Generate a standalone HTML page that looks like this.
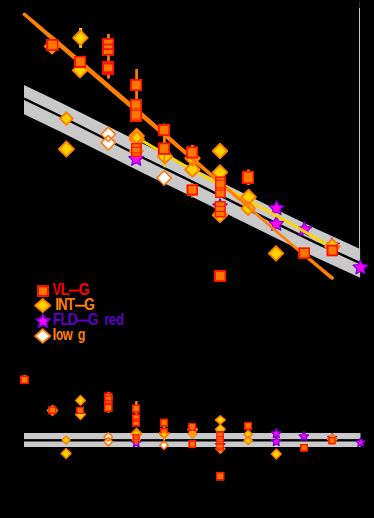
<!DOCTYPE html>
<html>
<head>
<meta charset="utf-8">
<title>chart</title>
<style>
html,body{margin:0;padding:0;background:#000;}
body{width:374px;height:518px;overflow:hidden;font-family:"Liberation Sans",sans-serif;}
svg{display:block;}
</style>
</head>
<body>
<svg width="374" height="518" viewBox="0 0 374 518">
<rect x="0" y="0" width="374" height="518" fill="#000"/>
<path d="M24 84.9L60 102.18L146 145.33L186 164.8L286 214.24L316 228.83L346 242.61L360.1 249.1L360.1 277.8L346 271.33L316 257.6L286 243.08L186 193.81L146 174.41L60 131.41L24 114.2Z" fill="#c9c9c9"/>
<rect x="359" y="8" width="1" height="241" fill="#c4c4c4"/>
<rect x="359" y="1" width="1" height="7" fill="#2a2a2a"/>
<path d="M24 98.7L60 116L146 159.2L186 178.7L286 228.2L316 242.8L346 256.6L360.1 263.1" fill="none" stroke="#000" stroke-width="2.4" stroke-linecap="butt" stroke-linejoin="round"/>
<path d="M136.2 151.4L138.33 156.17L143.52 156.72L139.64 160.22L140.73 165.33L136.2 162.72L131.67 165.33L132.76 160.22L128.88 156.72L134.07 156.17Z" fill="#ff00ff"/>
<path d="M220 198.7L222.13 203.47L227.32 204.02L223.44 207.52L224.53 212.63L220 210.02L215.47 212.63L216.56 207.52L212.68 204.02L217.87 203.47Z" fill="#ff00ff"/>
<path d="M276.5 200.7L278.63 205.47L283.82 206.02L279.94 209.52L281.03 214.63L276.5 212.02L271.97 214.63L273.06 209.52L269.18 206.02L274.37 205.47Z" fill="#ff00ff"/>
<path d="M276.3 216.3L278.43 221.07L283.62 221.62L279.74 225.12L280.83 230.23L276.3 227.62L271.77 230.23L272.86 225.12L268.98 221.62L274.17 221.07Z" fill="#ff00ff"/>
<path d="M304.3 221.8L306.43 226.57L311.62 227.12L307.74 230.62L308.83 235.73L304.3 233.12L299.77 235.73L300.86 230.62L296.98 227.12L302.17 226.57Z" fill="#ff00ff"/>
<path d="M332 238.1L334.13 242.87L339.32 243.42L335.44 246.92L336.53 252.03L332 249.42L327.47 252.03L328.56 246.92L324.68 243.42L329.87 242.87Z" fill="#ff00ff"/>
<path d="M360.45 259.9L362.58 264.67L367.77 265.22L363.89 268.72L364.98 273.83L360.45 271.22L355.92 273.83L357.01 268.72L353.13 265.22L358.32 264.67Z" fill="#ff00ff"/>
<path d="M136.2 151.4L138.33 156.17L143.52 156.72L139.64 160.22L140.73 165.33L136.2 162.72L131.67 165.33L132.76 160.22L128.88 156.72L134.07 156.17Z" fill="none" stroke="#7a00cc" stroke-width="1.2" stroke-linejoin="round"/>
<path d="M220 198.7L222.13 203.47L227.32 204.02L223.44 207.52L224.53 212.63L220 210.02L215.47 212.63L216.56 207.52L212.68 204.02L217.87 203.47Z" fill="none" stroke="#7a00cc" stroke-width="1.2" stroke-linejoin="round"/>
<path d="M276.5 200.7L278.63 205.47L283.82 206.02L279.94 209.52L281.03 214.63L276.5 212.02L271.97 214.63L273.06 209.52L269.18 206.02L274.37 205.47Z" fill="none" stroke="#7a00cc" stroke-width="1.2" stroke-linejoin="round"/>
<path d="M276.3 216.3L278.43 221.07L283.62 221.62L279.74 225.12L280.83 230.23L276.3 227.62L271.77 230.23L272.86 225.12L268.98 221.62L274.17 221.07Z" fill="none" stroke="#7a00cc" stroke-width="1.2" stroke-linejoin="round"/>
<path d="M304.3 221.8L306.43 226.57L311.62 227.12L307.74 230.62L308.83 235.73L304.3 233.12L299.77 235.73L300.86 230.62L296.98 227.12L302.17 226.57Z" fill="none" stroke="#7a00cc" stroke-width="1.2" stroke-linejoin="round"/>
<path d="M332 238.1L334.13 242.87L339.32 243.42L335.44 246.92L336.53 252.03L332 249.42L327.47 252.03L328.56 246.92L324.68 243.42L329.87 242.87Z" fill="none" stroke="#7a00cc" stroke-width="1.2" stroke-linejoin="round"/>
<path d="M360.45 259.9L362.58 264.67L367.77 265.22L363.89 268.72L364.98 273.83L360.45 271.22L355.92 273.83L357.01 268.72L353.13 265.22L358.32 264.67Z" fill="none" stroke="#7a00cc" stroke-width="1.2" stroke-linejoin="round"/>
<path d="M136 137.1L186 166.4L286 221.1L332 247.3" fill="none" stroke="#ffd400" stroke-width="2.9" stroke-linecap="butt" stroke-linejoin="round"/>
<rect x="79.1" y="28" width="3" height="19.8" fill="#ffd000"/>
<rect x="163.4" y="160" width="2" height="7.3" fill="#ffd000"/>
<path d="M52 39L59.3 46.3L52 53.6L44.7 46.3Z" fill="#ffd200"/>
<path d="M80.4 30.5L87.7 37.8L80.4 45.1L73.1 37.8Z" fill="#ffd200"/>
<path d="M80 63L87.3 70.3L80 77.6L72.7 70.3Z" fill="#ffd200"/>
<path d="M66.4 112.3L72.7 118.6L66.4 124.9L60.1 118.6Z" fill="#ffd200"/>
<path d="M66.4 141.5L74 149.1L66.4 156.7L58.8 149.1Z" fill="#ffd200"/>
<path d="M136.7 128.7L144 136L136.7 143.3L129.4 136Z" fill="#ffd200"/>
<path d="M136.7 131.9L144 139.2L136.7 146.5L129.4 139.2Z" fill="#ffd200"/>
<path d="M136.4 145.4L142.9 151.1L136.4 156.8L129.9 151.1Z" fill="#ffd200"/>
<path d="M164.9 149.1L172.2 156.4L164.9 163.7L157.6 156.4Z" fill="#ffd200"/>
<path d="M192.5 151L199.8 158.3L192.5 165.6L185.2 158.3Z" fill="#ffd200"/>
<path d="M192.4 162.2L199.7 169.5L192.4 176.8L185.1 169.5Z" fill="#ffd200"/>
<path d="M220 143.7L227.3 151L220 158.3L212.7 151Z" fill="#ffd200"/>
<path d="M220 165.1L227.3 172.4L220 179.7L212.7 172.4Z" fill="#ffd200"/>
<path d="M220 207.7L227.3 215L220 222.3L212.7 215Z" fill="#ffd200"/>
<path d="M248.6 189.7L255.9 197L248.6 204.3L241.3 197Z" fill="#ffd200"/>
<path d="M248.2 201.7L254.9 208.4L248.2 215.1L241.5 208.4Z" fill="#ffd200"/>
<path d="M276 246.1L283.3 253.4L276 260.7L268.7 253.4Z" fill="#ffd200"/>
<path d="M332.3 239.2L339.6 246.5L332.3 253.8L325 246.5Z" fill="#ffd200"/>
<path d="M52 39L59.3 46.3L52 53.6L44.7 46.3Z" fill="none" stroke="#ff7c00" stroke-width="1.8" stroke-linejoin="round"/>
<path d="M80.4 30.5L87.7 37.8L80.4 45.1L73.1 37.8Z" fill="none" stroke="#ff7c00" stroke-width="1.8" stroke-linejoin="round"/>
<path d="M80 63L87.3 70.3L80 77.6L72.7 70.3Z" fill="none" stroke="#ff7c00" stroke-width="1.8" stroke-linejoin="round"/>
<path d="M66.4 112.3L72.7 118.6L66.4 124.9L60.1 118.6Z" fill="none" stroke="#ff7c00" stroke-width="1.8" stroke-linejoin="round"/>
<path d="M66.4 141.5L74 149.1L66.4 156.7L58.8 149.1Z" fill="none" stroke="#ff7c00" stroke-width="1.8" stroke-linejoin="round"/>
<path d="M136.7 128.7L144 136L136.7 143.3L129.4 136Z" fill="none" stroke="#ff7c00" stroke-width="1.8" stroke-linejoin="round"/>
<path d="M136.7 131.9L144 139.2L136.7 146.5L129.4 139.2Z" fill="none" stroke="#ff7c00" stroke-width="1.8" stroke-linejoin="round"/>
<path d="M136.4 145.4L142.9 151.1L136.4 156.8L129.9 151.1Z" fill="none" stroke="#ff7c00" stroke-width="1.8" stroke-linejoin="round"/>
<path d="M164.9 149.1L172.2 156.4L164.9 163.7L157.6 156.4Z" fill="none" stroke="#ff7c00" stroke-width="1.8" stroke-linejoin="round"/>
<path d="M192.5 151L199.8 158.3L192.5 165.6L185.2 158.3Z" fill="none" stroke="#ff7c00" stroke-width="1.8" stroke-linejoin="round"/>
<path d="M192.4 162.2L199.7 169.5L192.4 176.8L185.1 169.5Z" fill="none" stroke="#ff7c00" stroke-width="1.8" stroke-linejoin="round"/>
<path d="M220 143.7L227.3 151L220 158.3L212.7 151Z" fill="none" stroke="#ff7c00" stroke-width="1.8" stroke-linejoin="round"/>
<path d="M220 165.1L227.3 172.4L220 179.7L212.7 172.4Z" fill="none" stroke="#ff7c00" stroke-width="1.8" stroke-linejoin="round"/>
<path d="M220 207.7L227.3 215L220 222.3L212.7 215Z" fill="none" stroke="#ff7c00" stroke-width="1.8" stroke-linejoin="round"/>
<path d="M248.6 189.7L255.9 197L248.6 204.3L241.3 197Z" fill="none" stroke="#ff7c00" stroke-width="1.8" stroke-linejoin="round"/>
<path d="M248.2 201.7L254.9 208.4L248.2 215.1L241.5 208.4Z" fill="none" stroke="#ff7c00" stroke-width="1.8" stroke-linejoin="round"/>
<path d="M276 246.1L283.3 253.4L276 260.7L268.7 253.4Z" fill="none" stroke="#ff7c00" stroke-width="1.8" stroke-linejoin="round"/>
<path d="M332.3 239.2L339.6 246.5L332.3 253.8L325 246.5Z" fill="none" stroke="#ff7c00" stroke-width="1.8" stroke-linejoin="round"/>
<path d="M108.3 127.1L115.5 134.3L108.3 141.5L101.1 134.3Z" fill="#ffffff"/>
<path d="M108.3 135.6L115.5 142.8L108.3 150L101.1 142.8Z" fill="#ffffff"/>
<path d="M164.1 170.8L171.3 178L164.1 185.2L156.9 178Z" fill="#ffffff"/>
<path d="M108.3 127.1L115.5 134.3L108.3 141.5L101.1 134.3Z" fill="none" stroke="#ff7800" stroke-width="1.6" stroke-linejoin="round"/>
<path d="M108.3 135.6L115.5 142.8L108.3 150L101.1 142.8Z" fill="none" stroke="#ff7800" stroke-width="1.6" stroke-linejoin="round"/>
<path d="M164.1 170.8L171.3 178L164.1 185.2L156.9 178Z" fill="none" stroke="#ff7800" stroke-width="1.6" stroke-linejoin="round"/>
<path d="M25.37 12.95L32.46 18.84L39.54 24.74L46.61 30.65L53.68 36.57L60.75 42.49L67.76 48.47L74.77 54.46L81.77 60.44L88.78 66.43L95.79 72.42L102.79 78.41L109.8 84.39L116.81 90.38L123.81 96.38L130.82 102.41L137.82 108.44L144.79 114.52L151.75 120.6L158.71 126.69L165.67 132.77L172.63 138.85L179.6 144.93L186.56 151.01L193.52 157.09L200.48 163.17L207.44 169.26L214.4 175.35L221.35 181.44L228.31 187.53L235.27 193.61L242.22 199.72L249.18 205.84L256.15 211.94L263.11 218.05L270.08 224.15L277.05 230.25L284.06 236.3L291.13 242.14L298.19 247.88L305.26 253.61L312.32 259.36L319.33 265.15L326.35 270.94L333.37 276.73L331.03 279.47L324.05 273.63L317.07 267.79L310.1 261.95L303.16 256.06L296.23 250.17L289.3 244.27L282.37 238.27L275.39 232.19L268.36 226.16L261.33 220.12L254.3 214.09L247.27 208.06L240.23 202.04L233.2 196.03L226.16 190.04L219.12 184.05L212.08 178.05L205.04 172.06L198 166.07L190.97 160.07L183.94 154.07L176.9 148.07L169.87 142.08L162.84 136.08L155.8 130.08L148.77 124.08L141.74 118.08L134.7 112.08L127.71 106.03L120.72 99.98L113.74 93.96L106.75 87.95L99.76 81.95L92.77 75.94L85.78 69.93L78.79 63.92L71.8 57.91L64.81 51.9L57.83 45.89L50.9 39.81L43.97 33.73L37.05 27.65L30.14 21.55L23.23 15.45Z" fill="#ff8000"/>
<circle cx="24.3" cy="14.2" r="1.65" fill="#ff8000"/>
<circle cx="332.2" cy="278.1" r="1.8" fill="#ff8000"/>
<rect x="107.15" y="34" width="2.7" height="44.6" fill="#ff8000"/>
<rect x="135.25" y="69" width="2.7" height="52" fill="#ff8000"/>
<rect x="163.05" y="123.6" width="2.7" height="31.4" fill="#ff8000"/>
<rect x="163.65" y="155" width="1.3" height="8" fill="#ff7000"/>
<rect x="191.05" y="145" width="2.7" height="15" fill="#ff8000"/>
<rect x="191" y="183.1" width="1.8" height="14.6" fill="#ff8000"/>
<rect x="247.05" y="169.5" width="2.7" height="15.5" fill="#ff8000"/>
<rect x="46.3" y="39" width="12" height="12" fill="#ff7800"/>
<rect x="74.05" y="55.9" width="12" height="12" fill="#ff7800"/>
<rect x="102.05" y="38.1" width="12" height="12" fill="#ff7800"/>
<rect x="102.05" y="43.5" width="12" height="12" fill="#ff7800"/>
<rect x="102.05" y="61.1" width="12" height="12" fill="#ff7800"/>
<rect x="102.05" y="62.9" width="12" height="12" fill="#ff7800"/>
<rect x="130.05" y="79" width="12" height="12" fill="#ff7800"/>
<rect x="157.9" y="124" width="12" height="12" fill="#ff7800"/>
<rect x="157.9" y="142.7" width="12" height="12" fill="#ff7800"/>
<rect x="186.05" y="146.6" width="12" height="12" fill="#ff7800"/>
<rect x="186.65" y="184.4" width="11.2" height="11.2" fill="#ff7800"/>
<rect x="214.05" y="270" width="12" height="12" fill="#ff7800"/>
<rect x="241.9" y="170.95" width="12.1" height="13" fill="#ff7800"/>
<rect x="298.4" y="247.4" width="11.6" height="11.6" fill="#ff7800"/>
<rect x="326.6" y="244.8" width="11.4" height="11.4" fill="#ff7800"/>
<path d="M46.3 39H58.3V51H46.3ZM48.15 40.65V49.2H56.8V40.65Z" fill="#ff0c00" fill-rule="evenodd"/>
<path d="M74.05 55.9H86.05V67.9H74.05ZM75.9 57.55V66.1H84.55V57.55Z" fill="#ff0c00" fill-rule="evenodd"/>
<path d="M102.05 38.1H114.05V50.1H102.05ZM103.9 39.75V48.3H112.55V39.75Z" fill="#ff0c00" fill-rule="evenodd"/>
<path d="M102.05 43.5H114.05V55.5H102.05ZM103.9 45.15V53.7H112.55V45.15Z" fill="#ff0c00" fill-rule="evenodd"/>
<path d="M102.05 61.1H114.05V73.1H102.05ZM103.9 62.75V71.3H112.55V62.75Z" fill="#ff0c00" fill-rule="evenodd"/>
<path d="M102.05 62.9H114.05V74.9H102.05ZM103.9 64.55V73.1H112.55V64.55Z" fill="#ff0c00" fill-rule="evenodd"/>
<path d="M130.05 79H142.05V91H130.05ZM131.9 80.65V89.2H140.55V80.65Z" fill="#ff0c00" fill-rule="evenodd"/>
<path d="M157.9 124H169.9V136H157.9ZM159.75 125.65V134.2H168.4V125.65Z" fill="#ff0c00" fill-rule="evenodd"/>
<path d="M157.9 142.7H169.9V154.7H157.9ZM159.75 144.35V152.9H168.4V144.35Z" fill="#ff0c00" fill-rule="evenodd"/>
<path d="M186.05 146.6H198.05V158.6H186.05ZM187.9 148.25V156.8H196.55V148.25Z" fill="#ff0c00" fill-rule="evenodd"/>
<path d="M186.65 184.4H197.85V195.6H186.65ZM188.5 186.05V193.8H196.35V186.05Z" fill="#ff0c00" fill-rule="evenodd"/>
<path d="M214.05 270H226.05V282H214.05ZM215.9 271.65V280.2H224.55V271.65Z" fill="#ff0c00" fill-rule="evenodd"/>
<path d="M241.9 170.95H254V183.95H241.9ZM243.75 172.6V182.15H252.5V172.6Z" fill="#ff0c00" fill-rule="evenodd"/>
<path d="M298.4 247.4H310V259H298.4ZM300.25 249.05V257.2H308.5V249.05Z" fill="#ff0c00" fill-rule="evenodd"/>
<path d="M326.6 244.8H338V256.2H326.6ZM328.45 246.45V254.4H336.5V246.45Z" fill="#ff0c00" fill-rule="evenodd"/>
<rect x="130.1" y="99" width="11.9" height="22.9" fill="#ff7800"/>
<rect x="130.9" y="99.8" width="10.3" height="21.3" fill="none" stroke="#ff0c00" stroke-width="1.6"/>
<rect x="130.1" y="108.4" width="11.9" height="0.8" fill="#ff0c00"/>
<rect x="130.1" y="110" width="11.9" height="0.8" fill="#ff0c00"/>
<rect x="130.1" y="118.65" width="11.9" height="0.7" fill="#ff0c00"/>
<rect x="131" y="143.1" width="10.7" height="13.7" fill="#ff7800"/>
<rect x="131.65" y="143.75" width="9.4" height="12.4" fill="none" stroke="#ff0c00" stroke-width="1.3"/>
<rect x="131" y="146.75" width="10.7" height="1.1" fill="#ff0c00"/>
<rect x="131" y="152.55" width="10.7" height="1.1" fill="#ff0c00"/>
<rect x="215.1" y="176.5" width="10.6" height="21.4" fill="#ff7800"/>
<rect x="215.75" y="177.15" width="9.3" height="20.1" fill="none" stroke="#ff0c00" stroke-width="1.3"/>
<rect x="215.1" y="179.8" width="10.6" height="1" fill="#ff0c00"/>
<rect x="215.1" y="187.5" width="10.6" height="1" fill="#ff0c00"/>
<rect x="215.1" y="189.6" width="10.6" height="1" fill="#ff0c00"/>
<rect x="214.8" y="201.1" width="10.9" height="16.3" fill="#ff7800"/>
<rect x="215.45" y="201.75" width="9.6" height="15" fill="none" stroke="#ff0c00" stroke-width="1.3"/>
<rect x="214.8" y="205.8" width="10.9" height="1" fill="#ff0c00"/>
<rect x="214.8" y="211.1" width="10.9" height="1" fill="#ff0c00"/>
<rect x="37.3" y="285.45" width="11.5" height="11.2" fill="#ff7800"/>
<rect x="38.2" y="286.35" width="9.7" height="9.4" fill="none" stroke="#ff0c00" stroke-width="1.8"/>
<path d="M42.7 298.85L50.3 305.45L42.7 312.05L35.1 305.45Z" fill="#ffd200"/>
<path d="M42.7 298.85L50.3 305.45L42.7 312.05L35.1 305.45Z" fill="none" stroke="#ff7c00" stroke-width="1.8" stroke-linejoin="round"/>
<path d="M43 314.05L45.13 318.37L49.9 319.06L46.45 322.42L47.26 327.17L43 324.93L38.74 327.17L39.55 322.42L36.1 319.06L40.87 318.37Z" fill="#ff00ff"/>
<path d="M43 314.05L45.13 318.37L49.9 319.06L46.45 322.42L47.26 327.17L43 324.93L38.74 327.17L39.55 322.42L36.1 319.06L40.87 318.37Z" fill="none" stroke="#7a00cc" stroke-width="1.7" stroke-linejoin="round"/>
<path d="M42.7 329.2L50.3 336L42.7 342.8L35.1 336Z" fill="#ffffff"/>
<path d="M42.7 329.2L50.3 336L42.7 342.8L35.1 336Z" fill="none" stroke="#ff7800" stroke-width="1.8" stroke-linejoin="round"/>
<text transform="translate(56.8 294.7) scale(0.9 1.15)" text-anchor="middle" fill="#ff0000" style="font-family:'Liberation Sans',sans-serif;font-size:14px;font-weight:bold;">V</text>
<text transform="translate(64.9 294.7) scale(1.1 1.15)" text-anchor="middle" fill="#ff0000" style="font-family:'Liberation Sans',sans-serif;font-size:14px;font-weight:bold;">L</text>
<rect x="68.8" y="289.6" width="11" height="2" fill="#ff0000"/>
<text transform="translate(84.1 294.7) scale(1 1.15)" text-anchor="middle" fill="#ff0000" style="font-family:'Liberation Sans',sans-serif;font-size:14px;font-weight:bold;">G</text>
<text transform="translate(57.2 309.8) scale(1 1.15)" text-anchor="middle" fill="#ff8000" style="font-family:'Liberation Sans',sans-serif;font-size:14px;font-weight:bold;">I</text>
<text transform="translate(62.9 309.8) scale(0.95 1.15)" text-anchor="middle" fill="#ff8000" style="font-family:'Liberation Sans',sans-serif;font-size:14px;font-weight:bold;">N</text>
<text transform="translate(70.7 309.8) scale(1 1.15)" text-anchor="middle" fill="#ff8000" style="font-family:'Liberation Sans',sans-serif;font-size:14px;font-weight:bold;">T</text>
<rect x="75" y="304.7" width="10.8" height="2" fill="#ff8000"/>
<text transform="translate(89.45 309.8) scale(1 1.15)" text-anchor="middle" fill="#ff8000" style="font-family:'Liberation Sans',sans-serif;font-size:14px;font-weight:bold;">G</text>
<text transform="translate(57 324.7) scale(1 1.15)" text-anchor="middle" fill="#5c00c4" style="font-family:'Liberation Sans',sans-serif;font-size:14px;font-weight:bold;">F</text>
<text transform="translate(64.6 324.7) scale(0.95 1.15)" text-anchor="middle" fill="#5c00c4" style="font-family:'Liberation Sans',sans-serif;font-size:14px;font-weight:bold;">L</text>
<text transform="translate(72.7 324.7) scale(1.05 1.15)" text-anchor="middle" fill="#5c00c4" style="font-family:'Liberation Sans',sans-serif;font-size:14px;font-weight:bold;">D</text>
<rect x="77" y="319.6" width="11.6" height="2" fill="#5c00c4"/>
<text transform="translate(93.1 324.7) scale(1 1.15)" text-anchor="middle" fill="#5c00c4" style="font-family:'Liberation Sans',sans-serif;font-size:14px;font-weight:bold;">G</text>
<text transform="translate(106.8 324.7) scale(0.9 1.15)" text-anchor="middle" fill="#5c00c4" style="font-family:'Liberation Sans',sans-serif;font-size:14px;font-weight:bold;">r</text>
<text transform="translate(112.55 324.7) scale(0.95 1.15)" text-anchor="middle" fill="#5c00c4" style="font-family:'Liberation Sans',sans-serif;font-size:14px;font-weight:bold;">e</text>
<text transform="translate(120 324.7) scale(0.95 1.15)" text-anchor="middle" fill="#5c00c4" style="font-family:'Liberation Sans',sans-serif;font-size:14px;font-weight:bold;">d</text>
<text transform="translate(54.5 340.2) scale(1 1.15)" text-anchor="middle" fill="#ff8000" style="font-family:'Liberation Sans',sans-serif;font-size:14px;font-weight:bold;">l</text>
<text transform="translate(59.55 340.2) scale(0.85 1.15)" text-anchor="middle" fill="#ff8000" style="font-family:'Liberation Sans',sans-serif;font-size:14px;font-weight:bold;">o</text>
<text transform="translate(67.7 340.2) scale(0.92 1.15)" text-anchor="middle" fill="#ff8000" style="font-family:'Liberation Sans',sans-serif;font-size:14px;font-weight:bold;">w</text>
<text transform="translate(81.5 340.2) scale(0.9 1.15)" text-anchor="middle" fill="#ff8000" style="font-family:'Liberation Sans',sans-serif;font-size:14px;font-weight:bold;">g</text>
<rect x="24" y="433" width="336.5" height="14" fill="#c9c9c9"/>
<rect x="24" y="439.1" width="336.5" height="2.4" fill="#000"/>
<path d="M136.2 438.05L137.54 441.06L140.81 441.4L138.37 443.6L139.05 446.82L136.2 445.18L133.35 446.82L134.03 443.6L131.59 441.4L134.86 441.06Z" fill="#ff00ff"/>
<path d="M220.2 440.35L221.57 443.42L224.91 443.77L222.41 446.02L223.11 449.3L220.2 447.63L217.29 449.3L217.99 446.02L215.49 443.77L218.83 443.42Z" fill="#ff00ff"/>
<path d="M276.3 428.45L277.72 431.64L281.2 432.01L278.6 434.35L279.33 437.77L276.3 436.02L273.27 437.77L274 434.35L271.4 432.01L274.88 431.64Z" fill="#ff00ff"/>
<path d="M276.3 436.45L277.7 439.58L281.1 439.94L278.56 442.23L279.27 445.59L276.3 443.87L273.33 445.59L274.04 442.23L271.5 439.94L274.9 439.58Z" fill="#ff00ff"/>
<path d="M303.9 431.55L305.27 434.62L308.61 434.97L306.11 437.22L306.81 440.5L303.9 438.83L300.99 440.5L301.69 437.22L299.19 434.97L302.53 434.62Z" fill="#ff00ff"/>
<path d="M332.2 433.15L333.48 436.03L336.62 436.36L334.28 438.48L334.93 441.56L332.2 439.99L329.47 441.56L330.12 438.48L327.78 436.36L330.92 436.03Z" fill="#ff00ff"/>
<path d="M360.6 437.75L361.91 440.69L365.12 441.03L362.72 443.19L363.39 446.34L360.6 444.73L357.81 446.34L358.48 443.19L356.08 441.03L359.29 440.69Z" fill="#ff00ff"/>
<path d="M136.2 438.05L137.54 441.06L140.81 441.4L138.37 443.6L139.05 446.82L136.2 445.18L133.35 446.82L134.03 443.6L131.59 441.4L134.86 441.06Z" fill="none" stroke="#7a00cc" stroke-width="1.3" stroke-linejoin="round"/>
<path d="M220.2 440.35L221.57 443.42L224.91 443.77L222.41 446.02L223.11 449.3L220.2 447.63L217.29 449.3L217.99 446.02L215.49 443.77L218.83 443.42Z" fill="none" stroke="#7a00cc" stroke-width="1.3" stroke-linejoin="round"/>
<path d="M276.3 428.45L277.72 431.64L281.2 432.01L278.6 434.35L279.33 437.77L276.3 436.02L273.27 437.77L274 434.35L271.4 432.01L274.88 431.64Z" fill="none" stroke="#7a00cc" stroke-width="1.3" stroke-linejoin="round"/>
<path d="M276.3 436.45L277.7 439.58L281.1 439.94L278.56 442.23L279.27 445.59L276.3 443.87L273.33 445.59L274.04 442.23L271.5 439.94L274.9 439.58Z" fill="none" stroke="#7a00cc" stroke-width="1.3" stroke-linejoin="round"/>
<path d="M303.9 431.55L305.27 434.62L308.61 434.97L306.11 437.22L306.81 440.5L303.9 438.83L300.99 440.5L301.69 437.22L299.19 434.97L302.53 434.62Z" fill="none" stroke="#7a00cc" stroke-width="1.3" stroke-linejoin="round"/>
<path d="M332.2 433.15L333.48 436.03L336.62 436.36L334.28 438.48L334.93 441.56L332.2 439.99L329.47 441.56L330.12 438.48L327.78 436.36L330.92 436.03Z" fill="none" stroke="#7a00cc" stroke-width="1.3" stroke-linejoin="round"/>
<path d="M360.6 437.75L361.91 440.69L365.12 441.03L362.72 443.19L363.39 446.34L360.6 444.73L357.81 446.34L358.48 443.19L356.08 441.03L359.29 440.69Z" fill="none" stroke="#7a00cc" stroke-width="1.3" stroke-linejoin="round"/>
<path d="M52.45 405.4L57.55 410.5L52.45 415.6L47.35 410.5Z" fill="#ffd200"/>
<path d="M80.5 395.5L85.4 400.4L80.5 405.3L75.6 400.4Z" fill="#ffd200"/>
<path d="M80.5 409.6L85.4 414.5L80.5 419.4L75.6 414.5Z" fill="#ffd200"/>
<path d="M66.1 435.9L70.1 439.9L66.1 443.9L62.1 439.9Z" fill="#ffd200"/>
<path d="M66.1 448.5L71.1 453.5L66.1 458.5L61.1 453.5Z" fill="#ffd200"/>
<path d="M136.5 428.3L141.5 433.3L136.5 438.3L131.5 433.3Z" fill="#ffd200"/>
<path d="M136.5 429.6L141.5 434.6L136.5 439.6L131.5 434.6Z" fill="#ffd200"/>
<path d="M136.2 435.3L140.3 439.4L136.2 443.5L132.1 439.4Z" fill="#ffd200"/>
<path d="M164.2 428.6L169.1 433.5L164.2 438.4L159.3 433.5Z" fill="#ffd200"/>
<path d="M192.6 424.7L197.5 429.6L192.6 434.5L187.7 429.6Z" fill="#ffd200"/>
<path d="M192.5 429.4L196.8 433.7L192.5 438L188.2 433.7Z" fill="#ffd200"/>
<path d="M220.35 415.7L225.25 419.9L220.35 424.1L215.45 419.9Z" fill="#ffd200"/>
<path d="M220.35 424.4L225.25 429.3L220.35 434.2L215.45 429.3Z" fill="#ffd200"/>
<path d="M220.4 444.2L224.9 448.7L220.4 453.2L215.9 448.7Z" fill="#ffd200"/>
<path d="M248.2 430.1L252.4 434.3L248.2 438.5L244 434.3Z" fill="#ffd200"/>
<path d="M248.2 436.2L252.4 440.4L248.2 444.6L244 440.4Z" fill="#ffd200"/>
<path d="M276.3 449.1L281.2 454L276.3 458.9L271.4 454Z" fill="#ffd200"/>
<path d="M332.3 434L337.2 438.9L332.3 443.8L327.4 438.9Z" fill="#ffd200"/>
<path d="M52.45 405.4L57.55 410.5L52.45 415.6L47.35 410.5Z" fill="none" stroke="#ff7c00" stroke-width="1.4" stroke-linejoin="round"/>
<path d="M80.5 395.5L85.4 400.4L80.5 405.3L75.6 400.4Z" fill="none" stroke="#ff7c00" stroke-width="1.4" stroke-linejoin="round"/>
<path d="M80.5 409.6L85.4 414.5L80.5 419.4L75.6 414.5Z" fill="none" stroke="#ff7c00" stroke-width="1.4" stroke-linejoin="round"/>
<path d="M66.1 435.9L70.1 439.9L66.1 443.9L62.1 439.9Z" fill="none" stroke="#ff7c00" stroke-width="1.4" stroke-linejoin="round"/>
<path d="M66.1 448.5L71.1 453.5L66.1 458.5L61.1 453.5Z" fill="none" stroke="#ff7c00" stroke-width="1.4" stroke-linejoin="round"/>
<path d="M136.5 428.3L141.5 433.3L136.5 438.3L131.5 433.3Z" fill="none" stroke="#ff7c00" stroke-width="1.4" stroke-linejoin="round"/>
<path d="M136.5 429.6L141.5 434.6L136.5 439.6L131.5 434.6Z" fill="none" stroke="#ff7c00" stroke-width="1.4" stroke-linejoin="round"/>
<path d="M136.2 435.3L140.3 439.4L136.2 443.5L132.1 439.4Z" fill="none" stroke="#ff7c00" stroke-width="1.4" stroke-linejoin="round"/>
<path d="M164.2 428.6L169.1 433.5L164.2 438.4L159.3 433.5Z" fill="none" stroke="#ff7c00" stroke-width="1.4" stroke-linejoin="round"/>
<path d="M192.6 424.7L197.5 429.6L192.6 434.5L187.7 429.6Z" fill="none" stroke="#ff7c00" stroke-width="1.4" stroke-linejoin="round"/>
<path d="M192.5 429.4L196.8 433.7L192.5 438L188.2 433.7Z" fill="none" stroke="#ff7c00" stroke-width="1.4" stroke-linejoin="round"/>
<path d="M220.35 415.7L225.25 419.9L220.35 424.1L215.45 419.9Z" fill="none" stroke="#ff7c00" stroke-width="1.4" stroke-linejoin="round"/>
<path d="M220.35 424.4L225.25 429.3L220.35 434.2L215.45 429.3Z" fill="none" stroke="#ff7c00" stroke-width="1.4" stroke-linejoin="round"/>
<path d="M220.4 444.2L224.9 448.7L220.4 453.2L215.9 448.7Z" fill="none" stroke="#ff7c00" stroke-width="1.4" stroke-linejoin="round"/>
<path d="M248.2 430.1L252.4 434.3L248.2 438.5L244 434.3Z" fill="none" stroke="#ff7c00" stroke-width="1.4" stroke-linejoin="round"/>
<path d="M248.2 436.2L252.4 440.4L248.2 444.6L244 440.4Z" fill="none" stroke="#ff7c00" stroke-width="1.4" stroke-linejoin="round"/>
<path d="M276.3 449.1L281.2 454L276.3 458.9L271.4 454Z" fill="none" stroke="#ff7c00" stroke-width="1.4" stroke-linejoin="round"/>
<path d="M332.3 434L337.2 438.9L332.3 443.8L327.4 438.9Z" fill="none" stroke="#ff7c00" stroke-width="1.4" stroke-linejoin="round"/>
<path d="M108.3 432.8L112.5 437L108.3 441.2L104.1 437Z" fill="#ffffff"/>
<path d="M108.3 437.5L112.5 441.7L108.3 445.9L104.1 441.7Z" fill="#ffffff"/>
<path d="M164 441L168.2 445.2L164 449.4L159.8 445.2Z" fill="#ffffff"/>
<path d="M108.3 432.8L112.5 437L108.3 441.2L104.1 437Z" fill="none" stroke="#ff7800" stroke-width="1.6" stroke-linejoin="round"/>
<path d="M108.3 437.5L112.5 441.7L108.3 445.9L104.1 441.7Z" fill="none" stroke="#ff7800" stroke-width="1.6" stroke-linejoin="round"/>
<path d="M164 441L168.2 445.2L164 449.4L159.8 445.2Z" fill="none" stroke="#ff7800" stroke-width="1.6" stroke-linejoin="round"/>
<rect x="107.3" y="391.8" width="2.4" height="21" fill="#ff8000"/>
<rect x="135.2" y="401" width="2.4" height="14" fill="#ff8000"/>
<rect x="163.1" y="426" width="2.4" height="3" fill="#ff8000"/>
<rect x="23.5" y="374.8" width="2" height="2.2" fill="#ff8000"/>
<rect x="163.5" y="438" width="1.6" height="2.3" fill="#ffd000"/>
<rect x="20.3" y="375.7" width="8.2" height="8.2" fill="#ff7800"/>
<rect x="48.5" y="406.45" width="7.8" height="7.8" fill="#ff7800"/>
<rect x="76" y="406.9" width="7.8" height="7.2" fill="#ff7800"/>
<rect x="104" y="392.85" width="8.3" height="8.3" fill="#ff7800"/>
<rect x="104" y="395.55" width="8.3" height="8.3" fill="#ff7800"/>
<rect x="104" y="403.75" width="8.3" height="8.3" fill="#ff7800"/>
<rect x="132.05" y="404.7" width="8" height="8" fill="#ff7800"/>
<rect x="132.05" y="414.1" width="8" height="8" fill="#ff7800"/>
<rect x="132.05" y="418.4" width="8" height="8" fill="#ff7800"/>
<rect x="160.15" y="418.8" width="7.8" height="7.8" fill="#ff7800"/>
<rect x="160.15" y="428" width="7.8" height="7.8" fill="#ff7800"/>
<rect x="188.1" y="423.05" width="7.9" height="7.9" fill="#ff7800"/>
<rect x="188.55" y="440.35" width="7.5" height="7.5" fill="#ff7800"/>
<rect x="216.05" y="472.2" width="8.2" height="8.2" fill="#ff7800"/>
<rect x="244" y="421.9" width="8" height="8" fill="#ff7800"/>
<rect x="300.15" y="444.05" width="7.6" height="7.6" fill="#ff7800"/>
<rect x="328.35" y="437.05" width="7.3" height="7.3" fill="#ff7800"/>
<path d="M20.3 375.7H28.5V383.9H20.3ZM21.75 376.99V382.49H27.33V376.99Z" fill="#ff0c00" fill-rule="evenodd"/>
<path d="M48.5 406.45H56.3V414.25H48.5ZM49.95 407.74V412.84H55.13V407.74Z" fill="#ff0c00" fill-rule="evenodd"/>
<path d="M76 406.9H83.8V414.1H76ZM77.45 408.19V412.69H82.63V408.19Z" fill="#ff0c00" fill-rule="evenodd"/>
<path d="M104 392.85H112.3V401.15H104ZM105.45 394.14V399.74H111.13V394.14Z" fill="#ff0c00" fill-rule="evenodd"/>
<path d="M104 395.55H112.3V403.85H104ZM105.45 396.84V402.44H111.13V396.84Z" fill="#ff0c00" fill-rule="evenodd"/>
<path d="M104 403.75H112.3V412.05H104ZM105.45 405.04V410.64H111.13V405.04Z" fill="#ff0c00" fill-rule="evenodd"/>
<path d="M132.05 404.7H140.05V412.7H132.05ZM133.5 405.99V411.29H138.88V405.99Z" fill="#ff0c00" fill-rule="evenodd"/>
<path d="M132.05 414.1H140.05V422.1H132.05ZM133.5 415.39V420.69H138.88V415.39Z" fill="#ff0c00" fill-rule="evenodd"/>
<path d="M132.05 418.4H140.05V426.4H132.05ZM133.5 419.69V424.99H138.88V419.69Z" fill="#ff0c00" fill-rule="evenodd"/>
<path d="M160.15 418.8H167.95V426.6H160.15ZM161.6 420.09V425.19H166.78V420.09Z" fill="#ff0c00" fill-rule="evenodd"/>
<path d="M160.15 428H167.95V435.8H160.15ZM161.6 429.29V434.39H166.78V429.29Z" fill="#ff0c00" fill-rule="evenodd"/>
<path d="M188.1 423.05H196V430.95H188.1ZM189.55 424.34V429.54H194.83V424.34Z" fill="#ff0c00" fill-rule="evenodd"/>
<path d="M188.55 440.35H196.05V447.85H188.55ZM190 441.64V446.44H194.88V441.64Z" fill="#ff0c00" fill-rule="evenodd"/>
<path d="M216.05 472.2H224.25V480.4H216.05ZM217.5 473.49V478.99H223.08V473.49Z" fill="#ff0c00" fill-rule="evenodd"/>
<path d="M244 421.9H252V429.9H244ZM245.45 423.19V428.49H250.83V423.19Z" fill="#ff0c00" fill-rule="evenodd"/>
<path d="M300.15 444.05H307.75V451.65H300.15ZM301.6 445.34V450.24H306.58V445.34Z" fill="#ff0c00" fill-rule="evenodd"/>
<path d="M328.35 437.05H335.65V444.35H328.35ZM329.8 438.34V442.94H334.48V438.34Z" fill="#ff0c00" fill-rule="evenodd"/>
<path d="M159.7 433.5L168.7 433.5L164.2 438.0Z" fill="#ffd200"/>
<path d="M159.7 433.5L164.2 438.0L168.7 433.5" fill="none" stroke="#ff7c00" stroke-width="1.5" stroke-linejoin="round" stroke-linecap="round"/>
<rect x="132.7" y="434" width="6.7" height="8.5" fill="#ff7800"/>
<rect x="133.25" y="434.55" width="5.6" height="7.4" fill="none" stroke="#ff0c00" stroke-width="1.1"/>
<rect x="132.7" y="436.5" width="6.7" height="0.8" fill="#ff0c00"/>
<rect x="132.7" y="438.9" width="6.7" height="0.8" fill="#ff0c00"/>
<rect x="216.4" y="431" width="7.4" height="19.7" fill="#ff7800"/>
<rect x="216.9" y="431.5" width="6.4" height="18.7" fill="none" stroke="#ff0c00" stroke-width="1"/>
<rect x="216.4" y="432.1" width="7.4" height="1" fill="#ff0c00"/>
<rect x="216.4" y="436" width="7.4" height="1.2" fill="#ff0c00"/>
<rect x="216.4" y="438.7" width="7.4" height="0.8" fill="#ff0c00"/>
<rect x="216.4" y="441.25" width="7.4" height="0.7" fill="#ff0c00"/>
<rect x="216.4" y="443.1" width="7.4" height="1.6" fill="#ff0c00"/>
<rect x="216.4" y="447.65" width="7.4" height="1" fill="#ff0c00"/>
</svg>
</body>
</html>
